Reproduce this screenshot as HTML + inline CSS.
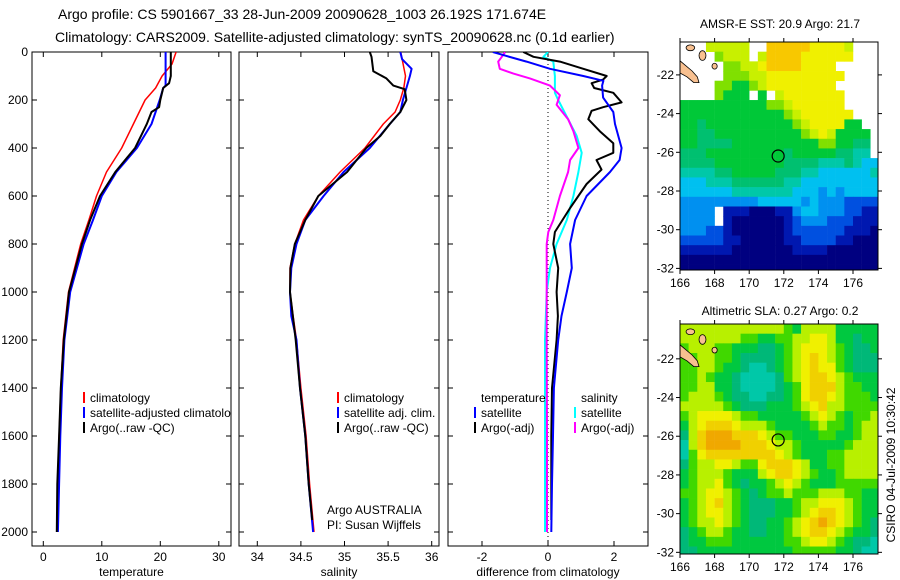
<!DOCTYPE html>
<html><head><meta charset="utf-8">
<style>
html,body{margin:0;padding:0;background:#fff;}
svg{display:block;font-family:"Liberation Sans",sans-serif;}
</style></head>
<body>
<svg id="fig" width="900" height="580" viewBox="0 0 900 580" xmlns="http://www.w3.org/2000/svg">
  <defs>
    <clipPath id="c1"><rect x="32" y="52" width="199" height="494"/></clipPath>
    <clipPath id="c2"><rect x="239" y="52" width="200" height="494"/></clipPath>
    <clipPath id="c3"><rect x="448" y="52" width="200" height="494"/></clipPath>
    <clipPath id="cm1"><rect x="680" y="42" width="198" height="228"/></clipPath>
    <clipPath id="cm2"><rect x="680" y="324" width="198" height="230"/></clipPath>
  </defs>
  <text x="58" y="19" font-size="14">Argo profile: CS 5901667_33 28-Jun-2009 20090628_1003 26.192S 171.674E</text>
  <text x="55" y="42" font-size="14">Climatology: CARS2009. Satellite-adjusted climatology: synTS_20090628.nc (0.1d earlier)</text>
  <g id="profiles"></g>
  <g id="maps"></g>
  <text x="780" y="28" font-size="12" text-anchor="middle">AMSR-E SST: 20.9 Argo: 21.7</text>
  <text x="780" y="315" font-size="12" text-anchor="middle">Altimetric SLA: 0.27 Argo: 0.2</text>
  <text x="0" y="0" font-size="12" text-anchor="middle" transform="translate(895,465) rotate(-90)">CSIRO 04-Jul-2009 10:30:42</text>
</svg>
<script>
// ---------- profile data ----------
const depthRedT = [0,50,100,150,200,300,400,500,600,700,800,1000,1200,1400,1600,1800,2000];
const redT = [22.7,22.0,20.3,19.2,17.4,15.4,13.4,10.8,9.1,7.8,6.4,4.3,3.4,3.0,2.7,2.5,2.3];
const depthBlueT = [0,50,100,140,150,200,300,400,500,600,700,800,1000,1200,1400,1600,1800,2000];
const blueT = [20.9,20.9,20.9,20.9,20.5,19.9,18.5,16.0,12.5,10.0,8.5,6.9,4.6,3.6,3.2,2.9,2.7,2.5];
const depthBlackT = [0,50,100,130,150,200,230,250,300,400,500,600,700,800,1000,1200,1400,1600,1800,2000];
const blackT = [21.8,21.8,21.8,21.5,20.5,20.0,19.8,18.5,17.7,15.7,12.3,9.7,8.0,6.6,4.4,3.5,3.0,2.7,2.4,2.3];

const depthRedS = [0,100,150,200,250,300,400,500,600,700,800,900,1000,1100,1200,1400,1600,1800,2000];
const redS = [35.645,35.70,35.68,35.64,35.58,35.445,35.235,34.95,34.70,34.53,34.43,34.375,34.375,34.41,34.45,34.50,34.56,34.60,34.65];
const depthBlueS = [0,30,70,100,150,200,250,300,400,500,600,700,800,900,1000,1100,1200,1400,1600,1800,2000];
const blueS = [35.64,35.66,35.77,35.75,35.71,35.67,35.64,35.52,35.29,34.99,34.76,34.55,34.45,34.39,34.375,34.39,34.45,34.49,34.55,34.59,34.64];
const depthBlackS = [0,20,80,110,140,155,200,250,300,350,400,500,600,700,800,900,1000,1200,1400,1600,1800,1950];
const blackS = [35.29,35.31,35.33,35.48,35.56,35.69,35.71,35.64,35.52,35.41,35.25,35.03,34.70,34.55,34.43,34.38,34.375,34.44,34.49,34.55,34.59,34.63];

const depthBlueD = [0,15,40,70,100,120,140,190,250,300,400,450,500,600,700,800,900,1000,1100,1200,1400,1600,1800,2000];
const blueD = [-1.67,-1.3,-0.65,0.06,1.07,1.68,1.64,1.67,1.98,2.03,2.23,2.17,1.88,1.17,0.82,0.67,0.72,0.57,0.41,0.31,0.18,0.15,0.12,0.1];
const depthBlackD = [0,20,40,70,100,115,130,150,170,210,230,245,280,330,380,420,450,490,550,650,750,800,900,1000,1100,1200,1400,1600,1800,1950];
const blackD = [-0.75,-0.44,0.36,1.07,1.78,1.67,1.32,1.4,1.98,2.23,1.67,1.32,1.22,1.57,1.98,1.98,1.47,1.62,1.17,0.67,0.21,0.16,0.31,0.26,0.3,0.26,0.12,0.1,0.1,0.1];
const depthMagD = [0,20,40,70,90,110,140,180,220,280,330,400,450,500,600,700,750,800,1200,1600,2000];
const magD = [-1.3,-1.4,-1.51,-1.46,-1.05,-0.55,0.06,0.36,0.26,0.61,0.77,0.92,0.67,0.61,0.36,0.16,0.01,-0.04,-0.04,-0.03,-0.03];
const depthCyanD = [0,20,40,100,170,200,280,350,420,500,600,700,800,900,1000,1200,1600,2000];
const cyanD = [0,-0.14,0.16,0.21,0.21,0.31,0.61,0.87,1.02,0.92,0.77,0.57,0.26,0.06,-0.04,-0.09,-0.09,-0.09];

const depthTicks = [0,200,400,600,800,1000,1200,1400,1600,1800,2000];
const tempTicks = [0,10,20,30];
const salTicks = [34,34.5,35,35.5,36];
const diffTicks = [-2,0,2];

// ---------- map data ----------
const sstGrid = [
"...99999..BBBBBAAAA9...",
"....8999.9BBBBAAAAAA...",
".....8899ABBBBAAAA.....",
".....88899AAAAAAAAA....",
"....887789AAAAAAAA.....",
"....8777.7.9AAAAAAA....",
"7777777777889AAAAAA....",
"77777777777789AAAAAA...",
"776777777777789AAAA77..",
"7766777777777789A97777.",
"7766667777777777887766.",
"6667777777776777776655.",
"66667777777766665556544",
"55556677777666554444445",
"44455566666655444444444",
"44444455555554443434444",
"33333333344444343332222",
"3333.111000113443332211",
"3333.100000012333222111",
"33322100000012222221110",
"22222110000011222211000",
"11111100000001111000000",
"00000000000000000000000",
"00000000000000000000000"];
const slaGrid = [
"44444444444432444422222",
"44444443322334455422122",
"34443322211234555432112",
"33443321111234565432111",
"33443221001234565532111",
"33432210000134566543222",
"33442210000123566643322",
"34443211001123566543332",
"44444321112223456443333",
"34555543322222345432334",
"24566654443222234332344",
"14677766654332223322344",
"04677776665443222223444",
"03566666666543222334444",
"13445543356665422334444",
"23444322245665432234444",
"23445321223454322233333",
"33455432123343334443322",
"23456432111223445554322",
"23455432111223456654322",
"23445432112234567654321",
"12344322112234566543221",
"12233322222233455432110",
"11222222222223333322100"];
const lonTicks = [166,168,170,172,174,176];
const latTicks = [-22,-24,-26,-28,-30,-32];
const floatLon = 171.674, floatLat = -26.192;
const sstColors = ["#000080","#0018b0","#0050e0","#0090f0","#00c0f0","#00c8a8","#00c070","#00c838","#80e000","#c8f000","#f0f000","#f8c800"];
const slaColors = ["#00c8a8","#00b878","#00c840","#40d800","#b8f000","#f0f000","#f0d000","#f0a800"];

const NS = "http://www.w3.org/2000/svg";
function mk(tag, attrs, parent){ const e=document.createElementNS(NS,tag); for(const k in attrs) e.setAttribute(k,attrs[k]); parent.appendChild(e); return e; }

// axes
const Y0=52, Y1=546;
const yD = d => 52 + 0.24*d;
const xT = t => 43.3 + 5.85*t;
const xS = s => 257.3 + 87.2*(s-34);
const xDf = v => 548 + 33*v;
const prof = document.getElementById('profiles');

function panel(name, x0, x1, ticks, xf, label, showY, clip){
  const g = mk('g',{},prof);
  
  
  const fr = mk('rect',{x:x0,y:Y0,width:x1-x0,height:Y1-Y0,fill:'none',stroke:'#000','stroke-width':1},g);
  
  
  depthTicks.forEach(d=>{
    mk('line',{x1:x0,x2:x0+5,y1:yD(d),y2:yD(d),stroke:'#000'},g);
    mk('line',{x1:x1-5,x2:x1,y1:yD(d),y2:yD(d),stroke:'#000'},g);
    if(showY){
      const t = mk('text',{x:28,y:yD(d)+4,'font-size':12,'text-anchor':'end'},g);
      
      
      t.textContent = d;
    }
  });
  ticks.forEach(v=>{
    const x = xf(v);
    mk('line',{x1:x,x2:x,y1:Y0,y2:Y0+5,stroke:'#000'},g);
    mk('line',{x1:x,x2:x,y1:Y1-5,y2:Y1,stroke:'#000'},g);
    const t = mk('text',{x:x,y:561,'font-size':12,'text-anchor':'middle'},g);
    
    
    t.textContent = v;
  });
  const lb = mk('text',{x:(x0+x1)/2,y:576,'font-size':12,'text-anchor':'middle'},g);
  
  
  lb.textContent = label;
  return mk('g',{'clip-path':'url(#'+clip+')'},g);
}
function series(g, name, depths, vals, xf, color, w){
  const pts = depths.map((d,i)=>xf(vals[i]).toFixed(1)+','+yD(d).toFixed(1)).join(' ');
  const p = mk('polyline',{points:pts,fill:'none',stroke:color,'stroke-width':w,'stroke-linejoin':'round'},g);
  
  
}
function legend(parent, name, x, y, color, text){
  const g = mk('g',{},parent);
  
  
  if(color) mk('rect',{x:x,y:y-10,width:2,height:11,fill:color},g);
  const t = mk('text',{x:x+7,y:y,'font-size':12},g);
  t.textContent = text;
}

const p1 = panel('temperature-panel',32,231,tempTicks,xT,'temperature',true,'c1');
series(p1,'temperature-climatology-line',depthRedT,redT,xT,'#ff0000',1.5);
series(p1,'temperature-satellite-adjusted-line',depthBlueT,blueT,xT,'#0000ff',2);
series(p1,'temperature-argo-line',depthBlackT,blackT,xT,'#000000',2);
legend(p1,'legend-climatology',83,402,'#ff0000','climatology');
legend(p1,'legend-satellite-adjusted',83,417,'#0000ff','satellite-adjusted climatology');
legend(p1,'legend-argo',83,432,'#000000','Argo(..raw -QC)');

const p2 = panel('salinity-panel',239,439,salTicks,xS,'salinity',false,'c2');
series(p2,'salinity-climatology-line',depthRedS,redS,xS,'#ff0000',1.5);
series(p2,'salinity-satellite-adjusted-line',depthBlueS,blueS,xS,'#0000ff',2);
series(p2,'salinity-argo-line',depthBlackS,blackS,xS,'#000000',2);
legend(p2,'legend-sal-climatology',337,402,'#ff0000','climatology');
legend(p2,'legend-sal-satellite',337,417,'#0000ff','satellite adj. clim.');
legend(p2,'legend-sal-argo',337,432,'#000000','Argo(..raw -QC)');
const at = mk('text',{x:327,y:514,'font-size':12},p2); at.textContent='Argo AUSTRALIA';


const pi = mk('text',{x:327,y:529,'font-size':12},p2); pi.textContent='PI: Susan Wijffels';



const p3 = panel('difference-panel',448,648,diffTicks,xDf,'difference from climatology',false,'c3');
const zl = mk('line',{x1:548,x2:548,y1:Y0,y2:Y1,stroke:'#000','stroke-dasharray':'1,3'},p3);


series(p3,'salinity-satellite-diff-line',depthCyanD,cyanD,xDf,'#00ffff',2);
series(p3,'salinity-argo-diff-line',depthMagD,magD,xDf,'#ff00ff',2);
series(p3,'temperature-argo-diff-line',depthBlackD,blackD,xDf,'#000000',2);
series(p3,'temperature-satellite-diff-line',depthBlueD,blueD,xDf,'#0000ff',2);
legend(p3,'legend-diff-temperature-header',474,402,null,'temperature');
legend(p3,'legend-diff-temp-satellite',474,417,'#0000ff','satellite');
legend(p3,'legend-diff-temp-argo',474,432,'#000000','Argo(-adj)');
legend(p3,'legend-diff-salinity-header',574,402,null,'salinity');
legend(p3,'legend-diff-sal-satellite',574,417,'#00ffff','satellite');
legend(p3,'legend-diff-sal-argo',574,432,'#ff00ff','Argo(-adj)');

// ---------- maps ----------
const maps = document.getElementById('maps');
function drawMap(name, top, latTop, grid, colors, clip){
  const g = mk('g',{},maps);
  
  
  const xL = lon => 680 + (lon-166)*17.3;
  const yL = lat => top + (latTop-lat)*19.35;
  const cg = mk('g',{'clip-path':'url(#'+clip+')'},g);
  grid.forEach((row,r)=>{
    for(let c=0;c<row.length;c++){
      const ch=row[c];
      if(ch==='.') continue;
      const v=parseInt(ch,16);
      const cell = mk('rect',{x:xL(166+c*0.5).toFixed(2),y:yL(latTop-r*0.5).toFixed(2),width:8.9,height:10,fill:colors[v]},cg);
      
      
    }
  });
  const land = mk('polygon',{points:[[165.9,-21.2],[166.3,-21.5],[166.7,-21.8],[167.0,-22.1],[167.1,-22.4],[166.8,-22.4],[166.4,-22.1],[166.0,-21.9],[165.9,-21.8]].map(p=>xL(p[0]).toFixed(1)+','+yL(p[1]).toFixed(1)).join(' '),fill:'#f8c090',stroke:'#000','stroke-width':0.8},cg);
  
  
  [[167.3,-21.0,0.2,0.25],[168.0,-21.55,0.15,0.15],[166.6,-20.6,0.25,0.15]].forEach(b=>{
    const isl = mk('ellipse',{cx:xL(b[0]),cy:yL(b[1]),rx:b[2]*17.3,ry:b[3]*19.35,fill:'#f8c090',stroke:'#000','stroke-width':0.8},cg);
    
    
  });
  const h = name.indexOf('sst')>=0 ? 228 : 230;
  mk('rect',{x:680,y:top,width:198,height:h,fill:'none',stroke:'#000'},g);
  const circ = mk('circle',{cx:xL(floatLon),cy:yL(floatLat),r:6,fill:'none',stroke:'#000','stroke-width':1.2},g);
  
  
  lonTicks.forEach(lo=>{
    const x=xL(lo);
    mk('line',{x1:x,x2:x,y1:top-4,y2:top,stroke:'#000'},g);
    mk('line',{x1:x,x2:x,y1:top+h,y2:top+h+4,stroke:'#000'},g);
    const t=mk('text',{x:x,y:top+h+17,'font-size':12,'text-anchor':'middle'},g);
    
    
    t.textContent=lo;
  });
  latTicks.forEach(la=>{
    const y=yL(la);
    mk('line',{x1:676,x2:680,y1:y,y2:y,stroke:'#000'},g);
    mk('line',{x1:878,x2:882,y1:y,y2:y,stroke:'#000'},g);
    const t=mk('text',{x:674,y:y+4,'font-size':12,'text-anchor':'end'},g);
    
    
    t.textContent=la;
  });
}
drawMap('sst-map',42,-20.3,sstGrid,sstColors,'cm1');
drawMap('sla-map',324,-20.2,slaGrid,slaColors,'cm2');
</script>
</body></html>
